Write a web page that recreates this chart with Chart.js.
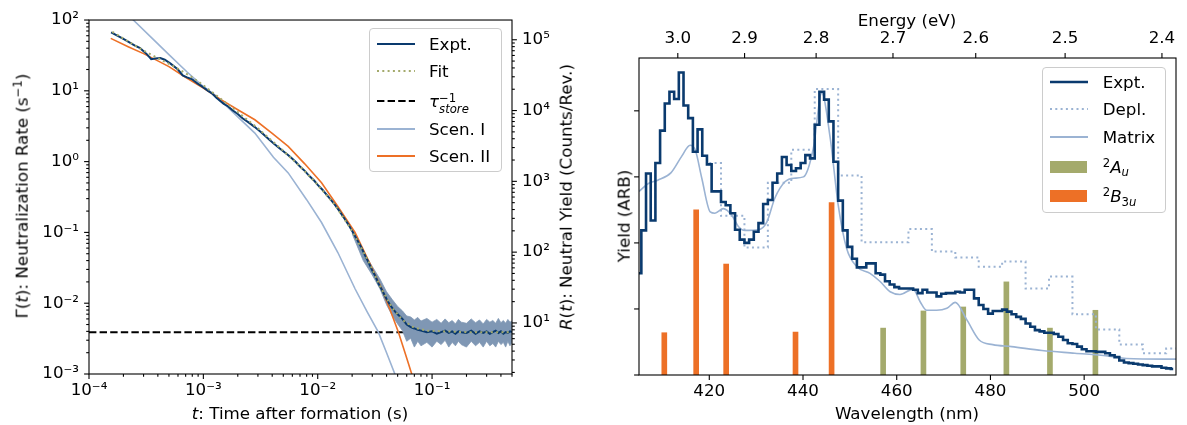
<!DOCTYPE html>
<html><head><meta charset="utf-8">
<script src="https://cdn.jsdelivr.net/npm/chart.js@4.4.1/dist/chart.umd.min.js"></script>
<style>
body{margin:0;background:#fff;font-family:"DejaVu Sans",sans-serif;}
#wrap{position:relative;width:1187px;height:425px;overflow:hidden;background:#fff}
canvas{position:absolute;top:0}
.t{position:absolute;font-size:16.7px;line-height:1;white-space:nowrap;color:#000;transform:translate(-50%,-50%)}
.rot{transform:translate(-50%,-50%) rotate(-90deg)}
.leg{position:absolute;box-sizing:border-box;border:1px solid #ccc;border-radius:4px;background:rgba(255,255,255,.8)}
.row{position:absolute;left:0;height:0;width:100%}
.row svg{position:absolute;top:-6px}
.row .lb{position:absolute;top:-10px;font-size:16.7px;line-height:20px;white-space:nowrap}
.sp{font-size:70%;position:relative;top:-.5em}
.sb{font-size:70%;position:relative;top:.3em}
.ss{display:inline-block;vertical-align:-.55em;font-size:11.7px;line-height:11px}
.ss span{display:block}
</style></head>
<body>
<div id="wrap">
  <canvas id="left" width="600" height="425" style="left:0"></canvas>
  <canvas id="right" width="587" height="425" style="left:600px"></canvas>

  <div class="t rot" style="left:22px;top:196px">Γ(<i>t</i>): Neutralization Rate (s<span class="sp">−1</span>)</div>
  <div class="t" style="left:300px;top:413px"><i>t</i>: Time after formation (s)</div>
  <div class="t rot" style="left:566px;top:197px"><i>R</i>(<i>t</i>): Neutral Yield (Counts/Rev.)</div>
  <div class="t rot" style="left:624px;top:216px">Yield (ARB)</div>
  <div class="t" style="left:907px;top:413px">Wavelength (nm)</div>
  <div class="t" style="left:907px;top:20px">Energy (eV)</div>

  <div class="leg" style="left:369px;top:28px;width:133px;height:144px">
    <div class="row" style="top:14.7px"><svg width="38" height="12" style="left:6.7px"><line x1="0" y1="6" x2="38" y2="6" stroke="#0a3a6e" stroke-width="2"/></svg><span class="lb" style="left:59px">Expt.</span></div>
    <div class="row" style="top:42px"><svg width="38" height="12" style="left:6.7px"><line x1="0" y1="6" x2="38" y2="6" stroke="#a4aa6c" stroke-width="2" stroke-dasharray="2 3.3"/></svg><span class="lb" style="left:59px">Fit</span></div>
    <div class="row" style="top:72px"><svg width="38" height="12" style="left:6.7px"><line x1="0" y1="6" x2="38" y2="6" stroke="#000" stroke-width="2" stroke-dasharray="7.4 3.2"/></svg><span class="lb" style="left:59px"><i>τ</i><span class="ss"><span>−1</span><span><i>store</i></span></span></span></div>
    <div class="row" style="top:100.3px"><svg width="38" height="12" style="left:6.7px"><line x1="0" y1="6" x2="38" y2="6" stroke="#9bb3d3" stroke-width="2"/></svg><span class="lb" style="left:59px">Scen. I</span></div>
    <div class="row" style="top:127px"><svg width="38" height="12" style="left:6.7px"><line x1="0" y1="6" x2="38" y2="6" stroke="#ed7026" stroke-width="2"/></svg><span class="lb" style="left:59px">Scen. II</span></div>
  </div>

  <div class="leg" style="left:1042px;top:67px;width:124px;height:146px">
    <div class="row" style="top:14px"><svg width="38" height="12" style="left:7px"><line x1="0" y1="6" x2="38" y2="6" stroke="#0a3a6e" stroke-width="2.6"/></svg><span class="lb" style="left:59.7px">Expt.</span></div>
    <div class="row" style="top:41.3px"><svg width="38" height="12" style="left:7px"><line x1="0" y1="6" x2="38" y2="6" stroke="#9bb3d3" stroke-width="2" stroke-dasharray="2 3.3"/></svg><span class="lb" style="left:59.7px">Depl.</span></div>
    <div class="row" style="top:68.7px"><svg width="38" height="12" style="left:7px"><line x1="0" y1="6" x2="38" y2="6" stroke="#9bb3d3" stroke-width="2"/></svg><span class="lb" style="left:59.7px">Matrix</span></div>
    <div class="row" style="top:98.7px"><svg width="38" height="12" style="left:7px"><rect x="0" y="0" width="37" height="12" fill="#a4aa6c"/></svg><span class="lb" style="left:59.7px"><span class="sp">2</span><i>A</i><span class="sb"><i>u</i></span></span></div>
    <div class="row" style="top:128px"><svg width="38" height="12" style="left:7px"><rect x="0" y="0" width="37" height="12" fill="#ed7026"/></svg><span class="lb" style="left:59.7px"><span class="sp">2</span><i>B</i><span class="sb">3<i>u</i></span></span></div>
  </div>
</div>
<script>
// ---- left panel: neutralization rate vs time ----
const tExpt = [1.56e-4,2.0e-4,2.5e-4,2.8e-4,3.2e-4,3.5e-4,3.8e-4,4.2e-4,4.6e-4,5.2e-4,6.0e-4,6.6e-4,7.2e-4,8.0e-4,9.0e-4,1.0e-3,1.1e-3,1.2e-3,1.3e-3,1.5e-3,1.65e-3,1.8e-3,2.0e-3,2.2e-3,2.5e-3,2.8e-3,3.2e-3,3.5e-3,3.8e-3,4.2e-3,4.6e-3,5.0e-3,5.5e-3,6.0e-3,6.5e-3,7.0e-3,7.7e-3,8.5e-3,9.3e-3,1.0e-2,1.1e-2,1.2e-2,1.3e-2,1.4e-2,1.55e-2,1.7e-2,1.85e-2,2.0e-2,2.2e-2,2.4e-2,2.6e-2,2.8e-2,3.0e-2,3.2e-2,3.4e-2,3.6e-2,3.8e-2,4.0e-2,4.25e-2,4.5e-2,4.75e-2,5.0e-2,5.5e-2,6.0e-2,6.5e-2,7.0e-2,7.5e-2,8.0e-2,9.0e-2,0.1,0.11,0.12,0.13,0.14,0.15,0.16,0.17,0.18,0.2,0.22,0.24,0.26,0.28,0.3,0.32,0.34,0.36,0.38,0.4,0.42,0.44,0.46,0.48,0.5];
const gExpt = [67,54,44,40,33,28,28.5,29,27.5,24,20,16.5,15.5,14.5,12.5,11.2,10.0,9.1,8.0,6.6,6.0,5.3,4.7,4.1,3.55,3.1,2.6,2.28,2.02,1.76,1.56,1.40,1.24,1.10,0.97,0.85,0.74,0.62,0.54,0.47,0.40,0.34,0.29,0.25,0.2,0.16,0.13,0.105,0.08,0.062,0.047,0.037,0.029,0.024,0.019,0.016,0.0135,0.0115,0.0097,0.0085,0.0076,0.0070,0.0060,0.0050,0.0046,0.0044,0.0042,0.0041,0.0039,0.0040,0.0037,0.0039,0.0041,0.0038,0.0040,0.0037,0.0040,0.0039,0.0038,0.0041,0.0037,0.0040,0.0038,0.0040,0.0037,0.0039,0.0041,0.0038,0.0040,0.0037,0.0039,0.0038,0.0040,0.0039];
const tFit = [1.6e-4,2.2e-4,3e-4,4e-4,5e-4,6e-4,8e-4,1e-3,1.5e-3,2e-3,3e-3,4e-3,5e-3,7e-3,1e-2,1.4e-2,2e-2,2.8e-2,3.6e-2,4.5e-2,5.5e-2,7e-2,9e-2,0.13,0.2,0.5];
const gFit = [68,50,37,29,24,20.5,15.5,12,7.2,5.0,2.95,1.95,1.42,0.86,0.47,0.25,0.105,0.038,0.016,0.0085,0.0058,0.0045,0.0041,0.0040,0.0039,0.0039];
const tauStore = 0.0039;
const tScen1 = [2.2e-4,2.44e-4,3.5e-4,5e-4,7.17e-4,1.0e-3,1.26e-3,1.8e-3,2.82e-3,4.1e-3,5.52e-3,8e-3,1.08e-2,1.5e-2,2.12e-2,2.7e-2,3.39e-2,4.0e-2,4.75e-2,5.0e-2];
const gScen1 = [118,100,57,32.5,18.6,11.5,8.75,5.05,2.53,1.15,0.693,0.29,0.138,0.052,0.016,0.0076,0.0039,0.0020,0.00098,0.0007];
const tScen2 = [1.55e-4,2.2e-4,3.0e-4,4.0e-4,5.0e-4,6.87e-4,1.0e-3,1.44e-3,2.0e-3,2.82e-3,4.0e-3,5.52e-3,7.7e-3,1.08e-2,1.5e-2,2.12e-2,2.8e-2,3.63e-2,4.3e-2,5.08e-2,5.8e-2,6.64e-2,7.0e-2];
const gScen2 = [55,42,33.5,26.5,22,15.8,10.9,7.45,5.4,3.9,2.5,1.64,0.93,0.502,0.232,0.1,0.039,0.016,0.0080,0.0039,0.0020,0.001,0.0007];
const tBand = [0.02,0.025,0.03,0.035,0.04,0.045,0.05,0.055,0.06,0.065,0.07,0.075,0.08,0.09,0.1,0.11,0.12,0.13,0.14,0.15,0.16,0.17,0.18,0.2,0.22,0.24,0.26,0.28,0.3,0.32,0.34,0.36,0.38,0.4,0.42,0.44,0.46,0.48,0.5];
const gBandHi = [0.115,0.054,0.033,0.022,0.0145,0.0112,0.0090,0.0078,0.0066,0.0064,0.0058,0.0063,0.0056,0.0061,0.0054,0.0059,0.0052,0.0060,0.0053,0.0057,0.0051,0.0059,0.0054,0.0052,0.0060,0.0053,0.0058,0.0051,0.0059,0.0054,0.0057,0.0052,0.0061,0.0053,0.0057,0.0052,0.0059,0.0054,0.0056];
const gBandLo = [0.096,0.040,0.025,0.016,0.0095,0.0066,0.0051,0.0041,0.0029,0.0032,0.0024,0.0029,0.0025,0.0028,0.0024,0.0029,0.0026,0.0030,0.0024,0.0028,0.0025,0.0029,0.0026,0.0024,0.0029,0.0025,0.0028,0.0024,0.0029,0.0025,0.0027,0.0024,0.0029,0.0026,0.0028,0.0024,0.0029,0.0025,0.0028];
const xTicksL = [1e-4,1e-3,1e-2,1e-1];
const yTicksL = [1e-3,1e-2,1e-1,1,10,100];
const yTicksR = [10,100,1e3,1e4,1e5];

// ---- right panel: photodissociation spectrum ----
const lamExpt = [405,406,407,408,409,410,411,412,413,414,415,416,417,418,419,420,421,422,423,424,425,426,427,428,429,430,431,432,433,434,435,436,437,438,439,440,441,442,443,444,445,446,447,448,449,450,451,452,453,454,455,456,457,458,459,460,461,462,463,464,465,466,467,468,469,470,471,472,473,474,475,476,477,478,479,480,481,482,483,484,485,486,487,488,489,490,491,492,493,494,495,496,497,498,499,500,501,502,503,504,505,506,507,508,509,510,511,512,513,514,515,516,517,518,519];
const yExpt = [1.54,2.19,3.05,2.34,3.21,3.70,4.11,4.29,4.18,4.58,4.08,3.89,3.38,3.72,3.32,3.19,2.78,2.78,2.62,2.57,2.45,2.20,2.05,2.00,2.05,2.17,2.30,2.59,2.65,2.91,3.05,3.30,3.18,3.09,3.13,3.21,3.33,3.28,3.79,4.29,4.17,3.84,3.23,2.64,2.19,1.94,1.76,1.63,1.63,1.69,1.69,1.54,1.52,1.42,1.37,1.33,1.31,1.31,1.31,1.29,1.24,1.29,1.25,1.25,1.19,1.23,1.24,1.24,1.26,1.25,1.29,1.29,1.16,1.06,1.00,0.93,0.97,0.97,0.99,0.96,0.92,0.88,0.85,0.78,0.73,0.68,0.66,0.64,0.64,0.62,0.58,0.53,0.48,0.47,0.43,0.39,0.36,0.36,0.35,0.35,0.33,0.30,0.27,0.22,0.19,0.18,0.17,0.16,0.15,0.14,0.13,0.13,0.11,0.10,0.09];
const lamDepl = [420,425,430,435,440,445,450,455,460,465,470,475,480,485,490,495,500,505,510,515,520];
const yDepl = [3.21,2.41,1.93,2.91,3.41,4.33,3.02,2.01,2.01,2.21,1.87,1.78,1.64,1.72,1.31,1.49,0.92,0.69,0.46,0.33,0.40];
const lamMatrix = [405,407,409,411.8,414.1,415.9,417,418.4,420.2,421.2,423,424.8,426.2,427.6,430.5,432.3,434,436.2,438,440.1,442.2,444,445.8,447.5,449.3,451.5,454.3,456.4,458.6,460.7,463.5,465,466.4,468.5,470.7,472.5,475,477.6,480.5,484.5,491,498,505,509,519.6];
const yMatrix = [2.78,2.90,2.95,3.06,3.31,3.48,3.41,2.98,2.47,2.45,2.52,2.42,2.25,2.19,2.20,2.32,2.68,2.93,2.98,3.0,3.43,4.27,3.59,2.58,1.92,1.64,1.54,1.42,1.26,1.22,1.30,1.11,0.98,0.98,1.01,1.10,0.83,0.53,0.46,0.43,0.37,0.33,0.29,0.25,0.24];
const lamAu = [457.1,465.7,474.2,483.4,492.7,502.4];
const hAu = [0.71,0.97,1.03,1.41,0.71,0.98];
const lamB3u = [410.4,417.2,423.6,438.4,446.1];
const hB3u = [0.64,2.50,1.68,0.65,2.61];
const wlTicks = [420,440,460,480,500];
const yTicksS = [0,1,2,3,4];
const eTicks = [3.0,2.9,2.8,2.7,2.6,2.5,2.4];
const HC = 1239.84;

const NAVY = '#0a3a6e', LBLUE = '#9bb3d3', ORANGE = '#ed7026', OLIVE = '#a4aa6c', BAND = '#7f97b4';

Chart.defaults.font.family = '"DejaVu Sans", sans-serif';
Chart.defaults.font.size = 16.7;
Chart.defaults.color = '#000';
Chart.defaults.animation = false;

const SUP = {'-':'⁻','0':'⁰','1':'¹','2':'²','3':'³','4':'⁴','5':'⁵','6':'⁶','7':'⁷','8':'⁸','9':'⁹'};
const pow10 = v => '10' + String(Math.round(Math.log10(v))).split('').map(c => SUP[c]).join('');
const minorLog = (lo, hi) => {
  const out = [];
  for (let e = Math.floor(Math.log10(lo)); e <= Math.ceil(Math.log10(hi)); e++)
    for (let k = 2; k <= 9; k++) { const v = k * Math.pow(10, e); if (v >= lo && v <= hi) out.push(v); }
  return out;
};
const pts = (xs, ys) => xs.map((x, i) => ({x, y: ys[i]}));
const setTicks = vals => s => { s.ticks = vals.map(value => ({value})); };
const noGrid = {display: false, drawTicks: false};

// tick marks (major/minor, outward) and the axes box
const frameTicks = {
  id: 'frameTicks',
  afterDraw(chart, args, opts) {
    const ctx = chart.ctx, a = chart.chartArea;
    ctx.save();
    ctx.strokeStyle = '#000'; ctx.lineWidth = 1.1;
    (opts.marks || []).forEach(m => {
      const s = chart.scales[m.id];
      const draw = (v, len) => {
        const p = s.getPixelForValue(v);
        ctx.beginPath();
        if (s.isHorizontal()) {
          if (p < a.left - 0.5 || p > a.right + 0.5) return;
          const y0 = s.position === 'top' ? a.top : a.bottom, d = s.position === 'top' ? -1 : 1;
          ctx.moveTo(p, y0); ctx.lineTo(p, y0 + d * len);
        } else {
          if (p < a.top - 0.5 || p > a.bottom + 0.5) return;
          const x0 = s.position === 'right' ? a.right : a.left, d = s.position === 'right' ? 1 : -1;
          ctx.moveTo(x0, p); ctx.lineTo(x0 + d * len, p);
        }
        ctx.stroke();
      };
      m.major.forEach(v => draw(v, 4.9));
      (m.minor || []).forEach(v => draw(v, 2.8));
    });
    ctx.strokeRect(a.left, a.top, a.right - a.left, a.bottom - a.top);
    ctx.restore();
  }
};

new Chart(document.getElementById('left'), {
  type: 'line',
  data: {datasets: [
    {data: pts(tFit, gFit), borderColor: OLIVE, borderWidth: 2, borderDash: [2, 3.3], pointRadius: 0, order: 0},
    {data: pts(tExpt, gExpt), borderColor: NAVY, borderWidth: 2, pointRadius: 0, order: 1},
    {data: pts(tScen2, gScen2), borderColor: ORANGE, borderWidth: 1.6, pointRadius: 0, order: 2},
    {data: pts(tScen1, gScen1), borderColor: LBLUE, borderWidth: 1.6, pointRadius: 0, order: 3},
    {data: pts(tBand, gBandHi), borderColor: BAND, backgroundColor: BAND, borderWidth: 0.8, pointRadius: 0, fill: '+1', order: 4},
    {data: pts(tBand, gBandLo), borderColor: BAND, borderWidth: 0.8, pointRadius: 0, order: 5},
    {data: pts([1e-4, 0.5], [tauStore, tauStore]), borderColor: '#000', borderWidth: 2, borderDash: [7.4, 3.2], pointRadius: 0, order: 6}
  ]},
  options: {
    responsive: false, devicePixelRatio: 1,
    layout: {padding: {top: 18, left: 0, right: 0, bottom: 0}},
    plugins: {legend: {display: false}, tooltip: {enabled: false},
      frameTicks: {marks: [
        {id: 'x', major: xTicksL, minor: minorLog(1e-4, 0.5)},
        {id: 'y', major: yTicksL, minor: minorLog(1e-3, 100)},
        {id: 'y2', major: yTicksR, minor: minorLog(1.9, 1.9e5)}
      ]}},
    scales: {
      x: {type: 'logarithmic', position: 'bottom', min: 1e-4, max: 0.5, grid: noGrid, border: {display: false},
          afterBuildTicks: setTicks(xTicksL), afterFit: s => { s.height = 51; },
          ticks: {autoSkip: false, maxRotation: 0, padding: 7, callback: v => pow10(v)}},
      y: {type: 'logarithmic', position: 'left', min: 1e-3, max: 100, grid: noGrid, border: {display: false},
          afterBuildTicks: setTicks(yTicksL), afterFit: s => { s.width = 89; },
          ticks: {autoSkip: false, padding: 10, callback: v => pow10(v)}},
      y2: {type: 'logarithmic', position: 'right', min: 1.9, max: 1.9e5, grid: noGrid, border: {display: false},
          afterBuildTicks: setTicks(yTicksR), afterFit: s => { s.width = 88; },
          ticks: {autoSkip: false, padding: 10, callback: v => pow10(v)}}
    }
  },
  plugins: [frameTicks]
});

new Chart(document.getElementById('right'), {
  type: 'line',
  data: {datasets: [
    {data: pts(lamExpt, yExpt), borderColor: NAVY, borderWidth: 2.6, stepped: 'middle', pointRadius: 0, order: 0},
    {data: pts(lamDepl, yDepl), borderColor: LBLUE, borderWidth: 2, borderDash: [2, 3.3], stepped: 'middle', pointRadius: 0, order: 1},
    {data: pts(lamMatrix, yMatrix), borderColor: LBLUE, borderWidth: 1.6, cubicInterpolationMode: 'monotone', pointRadius: 0, order: 2},
    {type: 'bar', data: pts(lamAu, hAu), backgroundColor: OLIVE, barThickness: 5, grouped: false, order: 3},
    {type: 'bar', data: pts(lamB3u, hB3u), backgroundColor: ORANGE, barThickness: 5, grouped: false, order: 4}
  ]},
  options: {
    responsive: false, devicePixelRatio: 1,
    layout: {padding: {top: 0, left: 0, right: 11, bottom: 0}},
    plugins: {legend: {display: false}, tooltip: {enabled: false},
      frameTicks: {marks: [
        {id: 'x', major: wlTicks},
        {id: 'x2', major: eTicks.map(e => HC / e)},
        {id: 'y', major: yTicksS}
      ]}},
    scales: {
      x: {type: 'linear', position: 'bottom', min: 405, max: 519.6, offset: false, grid: noGrid, border: {display: false},
          afterBuildTicks: setTicks(wlTicks), afterFit: s => { s.height = 50; },
          ticks: {autoSkip: false, maxRotation: 0, padding: 7, callback: v => String(v)}},
      x2: {type: 'linear', position: 'top', min: 405, max: 519.6, offset: false, grid: noGrid, border: {display: false},
          afterBuildTicks: setTicks(eTicks.map(e => HC / e)), afterFit: s => { s.height = 58; },
          ticks: {autoSkip: false, maxRotation: 0, padding: 9, callback: v => (HC / v).toFixed(1)}},
      y: {type: 'linear', position: 'left', min: 0, max: 4.8, grid: noGrid, border: {display: false},
          afterBuildTicks: setTicks(yTicksS), afterFit: s => { s.width = 39; },
          ticks: {display: false}}
    }
  },
  plugins: [frameTicks]
});
</script>
</body></html>
